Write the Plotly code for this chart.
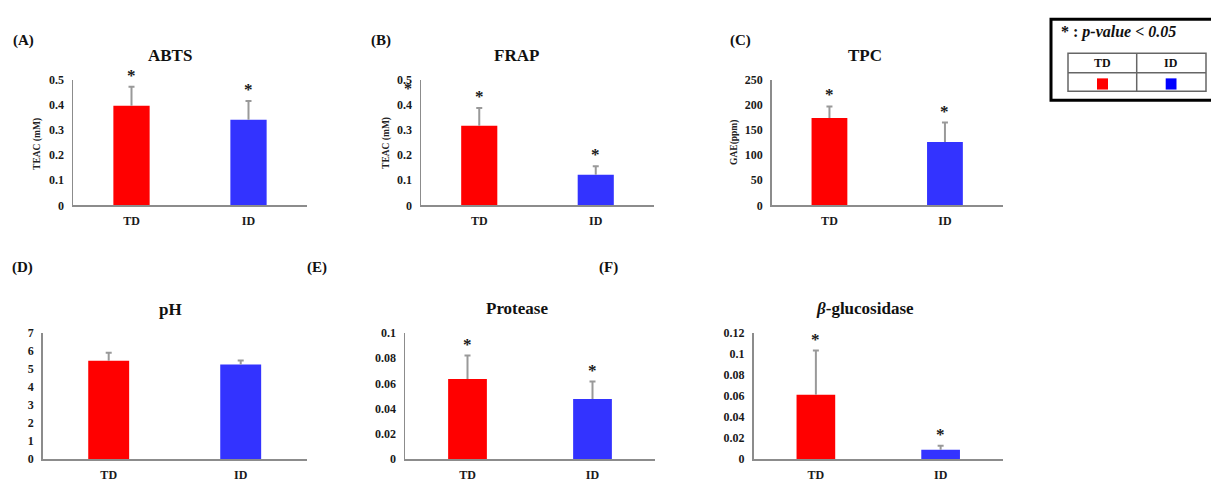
import plotly.graph_objects as go

# ---------------- data ----------------
categories = ["TD", "ID"]

abts_mean = [0.397, 0.341]
abts_err = [0.075, 0.075]
abts_sig = [True, True]

frap_mean = [0.317, 0.122]
frap_err = [0.071, 0.034]
frap_sig = [True, True]

tpc_mean = [174, 126]
tpc_err = [23, 39]
tpc_sig = [True, True]

ph_mean = [5.47, 5.26]
ph_err = [0.45, 0.23]
ph_sig = [False, False]

protease_mean = [0.0636, 0.0477]
protease_err = [0.0185, 0.0138]
protease_sig = [True, True]

bglu_mean = [0.0613, 0.0090]
bglu_err = [0.0420, 0.0039]
bglu_sig = [True, True]

legend_note = "* : <i>p-value < 0.05</i>"

# ---------------- layout helpers ----------------
W, H = 1211, 483
FONT = "Liberation Serif, Times New Roman, Times, serif"
BAR_COLORS = ["#FF0000", "#3333FF"]
LEG_COLORS = ["#FF0000", "#0000FF"]
AXIS_COLOR = "#8c8c8c"
ERR_COLOR = "#999999"


def px(x):
    return x / W


def py(y):
    return 1 - y / H


panels = [
    dict(label="(A)", title="<b>ABTS</b>", mean=abts_mean, err=abts_err, sig=abts_sig,
         yrange=[0, 0.5], dtick=0.1, ytitle="TEAC (mM)",
         box=(73, 307, 75, 204.3), title_xy=(170, 50), label_xy=(23, 34), ytitle_xy=(38, 141)),
    dict(label="(B)", title="<b>FRAP</b>", mean=frap_mean, err=frap_err, sig=frap_sig,
         yrange=[0, 0.5], dtick=0.1, ytitle="TEAC (mM)",
         box=(421, 654, 75, 204.3), title_xy=(516, 50), label_xy=(380.5, 34), ytitle_xy=(387, 140)),
    dict(label="(C)", title="<b>TPC</b>", mean=tpc_mean, err=tpc_err, sig=tpc_sig,
         yrange=[0, 250], dtick=50, ytitle="GAE(ppm)",
         box=(771.7, 1002.7, 75, 204.3), title_xy=(865, 50), label_xy=(740.5, 34), ytitle_xy=(735, 140)),
    dict(label="(D)", title="<b>pH</b>", mean=ph_mean, err=ph_err, sig=ph_sig,
         yrange=[0, 7], dtick=1, ytitle=None,
         box=(42.7, 306.7, 336, 465.7), title_xy=(170, 312), label_xy=(22.5, 268), ytitle_xy=None),
    dict(label="(E)", title="<b>Protease</b>", mean=protease_mean, err=protease_err, sig=protease_sig,
         yrange=[0, 0.1], dtick=0.02, ytitle=None,
         box=(405, 655, 335.7, 465.7), title_xy=(517, 311), label_xy=(316.7, 268), ytitle_xy=None),
    dict(label="(F)", title="<b><i>β</i>-glucosidase</b>", mean=bglu_mean, err=bglu_err, sig=bglu_sig,
         yrange=[0, 0.12], dtick=0.02, ytitle=None,
         box=(753.5, 1003, 335.7, 465.7), title_xy=(865, 311), label_xy=(608.5, 268), ytitle_xy=None),
]

fig = go.Figure()
annotations = []
shapes = []
xpos = list(range(len(categories)))

for i, p in enumerate(panels):
    n = "" if i == 0 else str(i + 1)
    xa, ya = "x" + n, "y" + n
    x0, x1, y0, y1 = p["box"]
    # bars
    fig.add_trace(go.Bar(
        x=xpos, y=p["mean"], marker=dict(color=BAR_COLORS, line=dict(width=0)),
        width=0.31, xaxis=xa, yaxis=ya, showlegend=False, hoverinfo="skip"))
    # one-sided (upper) error bars drawn from the data
    cap = 3.0 / ((x1 - x0) / 2.0)
    ex, ey = [], []
    for k, (m, e) in enumerate(zip(p["mean"], p["err"])):
        ex += [k, k, None, k - cap, k + cap, None]
        ey += [m, m + e, None, m + e, m + e, None]
    fig.add_trace(go.Scatter(
        x=ex, y=ey, mode="lines", line=dict(color=ERR_COLOR, width=2),
        xaxis=xa, yaxis=ya, showlegend=False, hoverinfo="skip"))
    # axes
    fig.layout["xaxis" + n] = dict(
        domain=[px(x0), px(x1)], anchor=ya, range=[-0.5, len(categories) - 0.5],
        tickvals=xpos, ticktext=["<b>%s</b>" % c for c in categories],
        showline=True, linecolor=AXIS_COLOR, linewidth=1.5, showgrid=False, zeroline=False,
        ticks="outside", ticklen=4, tickcolor="rgba(0,0,0,0)",
        tickfont=dict(family=FONT, size=12, color="#1a1a1a"), fixedrange=True)
    fig.layout["yaxis" + n] = dict(
        domain=[py(y1), py(y0)], anchor=xa, range=p["yrange"], dtick=p["dtick"],
        showline=True, linecolor=AXIS_COLOR, linewidth=1.5, showgrid=False, zeroline=False,
        ticks="outside", ticklen=5, tickcolor="rgba(0,0,0,0)",
        tickfont=dict(family=FONT, size=12, color="#1a1a1a", weight="bold"), fixedrange=True)
    # significance stars
    for k, (m, e, s) in enumerate(zip(p["mean"], p["err"], p["sig"])):
        if s:
            annotations.append(dict(
                x=k, y=m + e, xref=xa, yref=ya, text="<b>*</b>", showarrow=False,
                yanchor="bottom", yshift=0,
                font=dict(family=FONT, size=17, color="#1a1a1a")))
    # title and panel label
    tx, ty = p["title_xy"]
    annotations.append(dict(x=px(tx), y=py(ty), xref="paper", yref="paper", text=p["title"],
                            showarrow=False, xanchor="center", yanchor="middle",
                            font=dict(family=FONT, size=17, color="#111")))
    lx, ly = p["label_xy"]
    annotations.append(dict(x=px(lx), y=py(ly), xref="paper", yref="paper", text="<b>%s</b>" % p["label"],
                            showarrow=False, xanchor="center", yanchor="middle",
                            font=dict(family=FONT, size=15, color="#111")))
    if p["ytitle"]:
        yx, yy = p["ytitle_xy"]
        annotations.append(dict(x=px(yx), y=py(yy), xref="paper", yref="paper",
                                text="<b>%s</b>" % p["ytitle"], textangle=-90,
                                showarrow=False, xanchor="center", yanchor="middle",
                                font=dict(family=FONT, size=9.5, color="#222")))

# stray star next to panel B's y axis (present in the original)
annotations.append(dict(x=px(408), y=py(84), xref="paper", yref="paper", text="<b>*</b>",
                        showarrow=False, xanchor="center", yanchor="middle",
                        font=dict(family=FONT, size=16, color="#1a1a1a")))

# ---------------- legend box ----------------
shapes.append(dict(type="rect", xref="paper", yref="paper",
                   x0=px(1051), x1=px(1216), y0=py(96), y1=py(12.5),
                   line=dict(color="#000", width=3), fillcolor="white", layer="above"))
tbl = dict(xref="paper", yref="paper", line=dict(color="#666", width=1.5), layer="above")
shapes.append(dict(type="rect", x0=px(1068), x1=px(1206), y0=py(86.7), y1=py(47.7), **tbl))
shapes.append(dict(type="line", x0=px(1068), x1=px(1206), y0=py(67.7), y1=py(67.7), **tbl))
shapes.append(dict(type="line", x0=px(1136.7), x1=px(1136.7), y0=py(86.7), y1=py(47.7), **tbl))
sq_x = [(1097, 1108), (1165.7, 1176.5)]
for (a, b), col in zip(sq_x, LEG_COLORS):
    shapes.append(dict(type="rect", xref="paper", yref="paper", x0=px(a), x1=px(b),
                       y0=py(85), y1=py(73.5), fillcolor=col, line=dict(width=0), layer="above"))
for cx, c in zip([1102, 1171], categories):
    annotations.append(dict(x=px(cx), y=py(57.5), xref="paper", yref="paper", text="<b>%s</b>" % c,
                            showarrow=False, xanchor="center", yanchor="middle",
                            font=dict(family=FONT, size=12, color="#111")))
annotations.append(dict(x=px(1059), y=py(25.5), xref="paper", yref="paper",
                        text="<b>%s</b>" % legend_note, showarrow=False,
                        xanchor="left", yanchor="middle",
                        font=dict(family=FONT, size=16, color="#111")))

fig.update_layout(
    width=W, height=H, margin=dict(l=0, r=0, t=0, b=0),
    paper_bgcolor="white", plot_bgcolor="white",
    barmode="overlay", annotations=annotations, shapes=shapes,
    font=dict(family=FONT),
)

POST = (
    "var h=document.documentElement, b=document.body;"
    "h.style.margin='0'; h.style.padding='0'; h.style.overflow='hidden'; h.style.height='100%';"
    "b.style.margin='0'; b.style.padding='0'; b.style.overflow='hidden'; b.style.height='100%';"
    "var d=document.getElementById('{plot_id}');"
    "d.style.position='fixed'; d.style.left='0px'; d.style.top='0px';"
)

fig.write_html(
    "out.html",
    config={"displayModeBar": False, "staticPlot": True},
    post_script=POST,
)
